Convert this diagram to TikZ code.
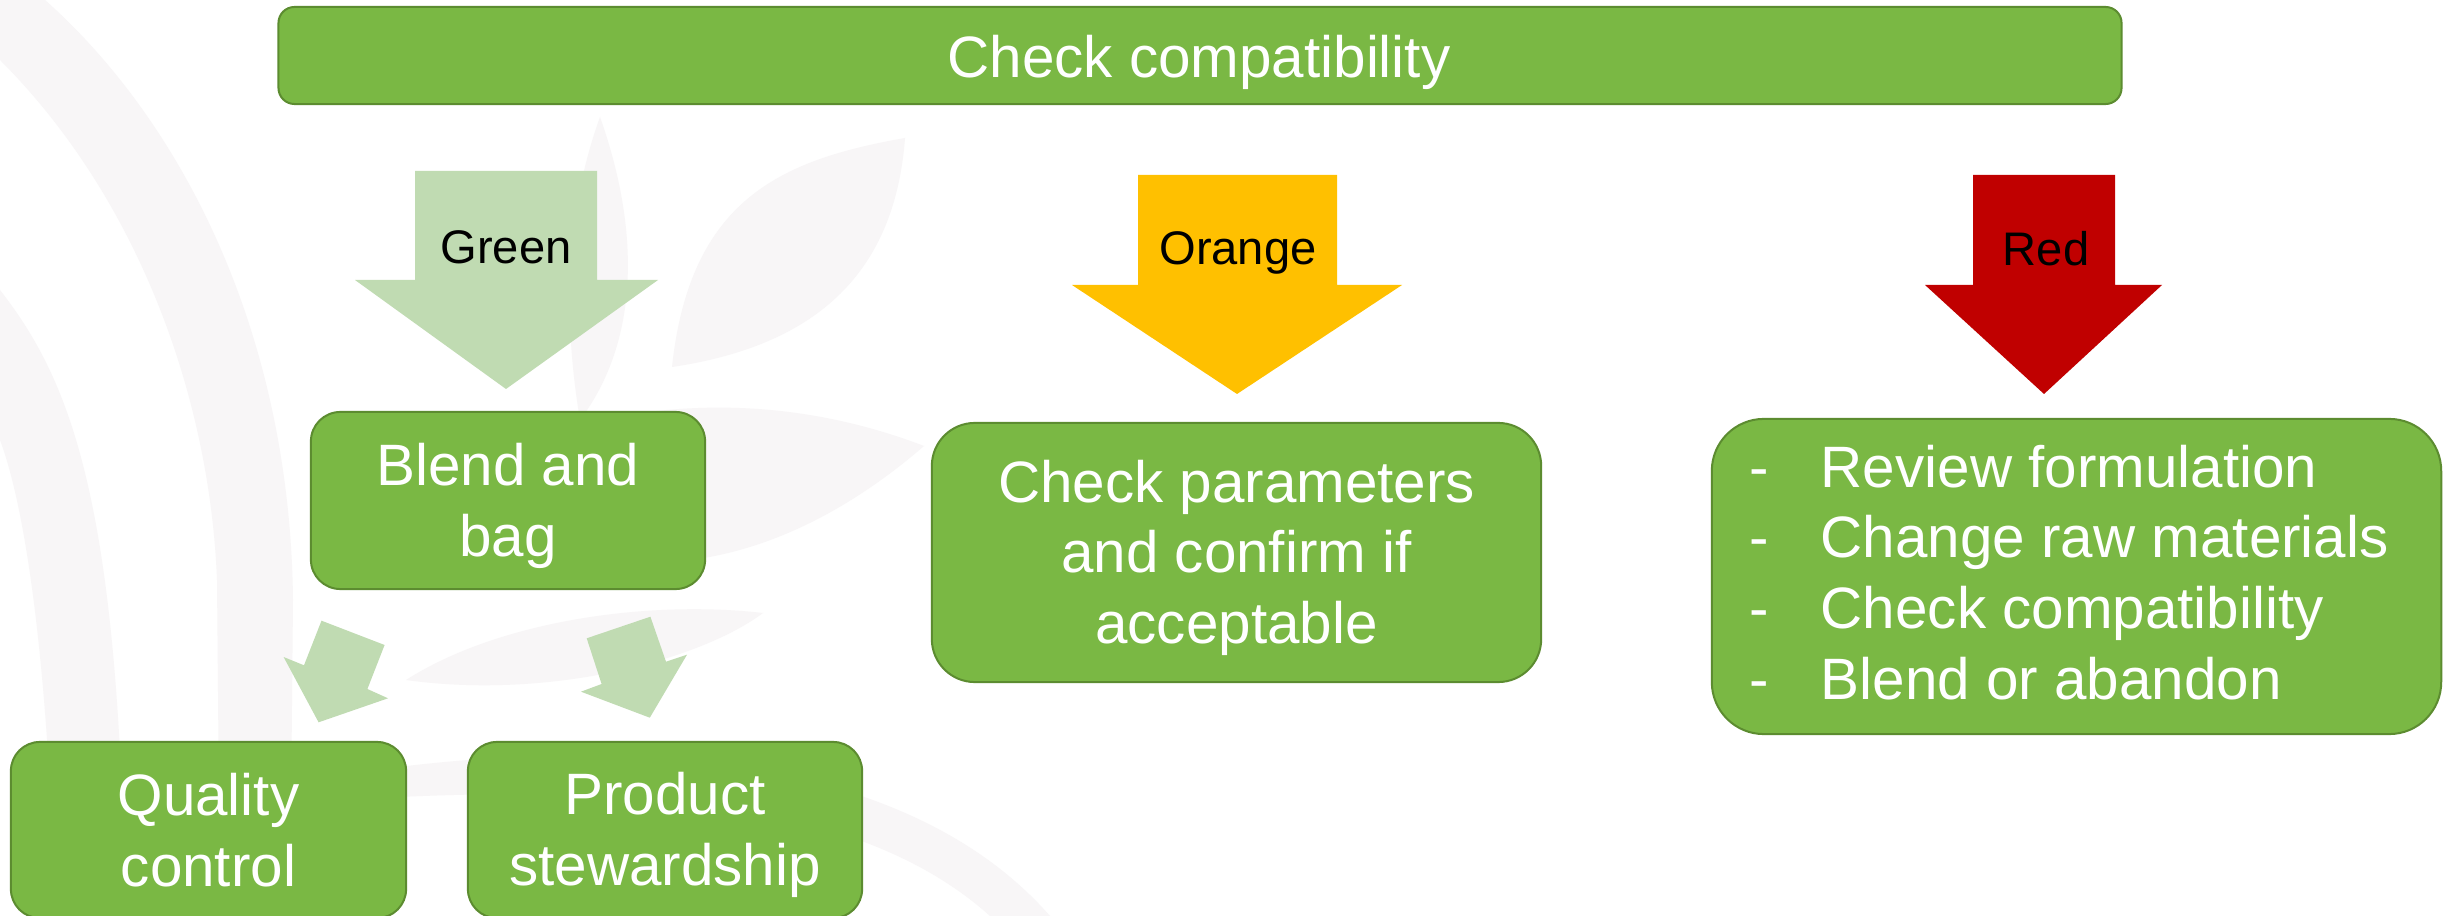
\documentclass[tikz,border=0pt]{standalone}
\usepackage{fontspec}
\setmainfont{Liberation Sans}
\definecolor{boxgreen}{RGB}{122,184,68}
\definecolor{boxedge}{RGB}{92,140,48}
\definecolor{lightgreen}{RGB}{192,219,178}
\definecolor{arrorange}{RGB}{255,192,0}
\definecolor{arrred}{RGB}{192,0,0}
\definecolor{wmark}{RGB}{248,246,247}
\newcommand{\topst}{\rule{0pt}{0.9em}}
\newcommand{\botst}{\rule[-0.184em]{0pt}{0pt}}
\tikzset{
  gbox/.style={draw=boxedge, line width=0.02cm, fill=boxgreen, text=white,
    align=center, inner sep=0pt,
    font=\fontsize{16.6}{20.1}\selectfont},
  arrlabel/.style={text=black, inner sep=0pt, anchor=base,
    font=\fontsize{13.4}{16}\selectfont},
  wm/.style={fill=wmark, draw=none}
}
\begin{document}
\begin{tikzpicture}[x=0.01cm, y=-0.01cm]
\useasboundingbox (0,0) rectangle (2443,916);
\fill[white] (0,0) rectangle (2443,916);
% watermark
\fill[wm] (45,0) .. controls (180,120) and (290,330) .. (293,600) -- (290,916)
  -- (220,916) -- (217,580) .. controls (210,400) and (140,200) .. (0,60) -- (0,0) -- cycle;
\fill[wm] (0,290) .. controls (70,380) and (120,500) .. (125,916) -- (55,916)
  .. controls (50,700) and (30,520) .. (0,440) -- cycle;
\fill[wm] (600,117) .. controls (640,230) and (640,340) .. (580,420)
  .. controls (560,300) and (570,200) .. (600,117) -- cycle;
\fill[wm] (672,367) .. controls (690,200) and (780,160) .. (905,138)
  .. controls (895,270) and (820,345) .. (672,367) -- cycle;
\fill[wm] (600,420) .. controls (720,395) and (830,410) .. (924,446)
  .. controls (850,510) and (770,550) .. (690,560) -- cycle;
\fill[wm] (406,680) .. controls (500,620) and (650,600) .. (763,613)
  .. controls (700,660) and (550,700) .. (406,680) -- cycle;
\fill[wm] (340,775) .. controls (600,735) and (900,745) .. (1050,916) -- (990,916)
  .. controls (850,790) and (600,785) .. (340,800) -- cycle;

% top bar
\node[gbox, minimum width=18.42cm, minimum height=0.97cm, rounded corners=0.16cm]
  (topbar) at (1200,55.5) {};
\node[gbox, draw=none, fill=none, anchor=base] (top) at (1199,78) {Check compatibility};

% big arrows
\fill[lightgreen] (415,171) -- (597,171) -- (597,280) -- (658,280) -- (506,389)
  -- (355,280) -- (415,280) -- cycle;
\node[arrlabel] (lgreen) at (506,264) {Green};
\fill[arrorange] (1138,175) -- (1337,175) -- (1337,285) -- (1402,285) -- (1237,394)
  -- (1072,285) -- (1138,285) -- cycle;
\node[arrlabel] (lorange) at (1238,265) {Orange};
\fill[arrred] (1973,175) -- (2115,175) -- (2115,285) -- (2162,285) -- (2044,394)
  -- (1925,285) -- (1973,285) -- cycle;
\node[arrlabel] (lred) at (2046,266) {Red};

% boxes
\node[gbox, minimum width=3.94cm, minimum height=1.77cm, rounded corners=0.295cm]
  (blend) at (508,500.5) {\topst Blend and\\bag\botst};
\node[gbox, minimum width=3.95cm, minimum height=1.76cm, rounded corners=0.29cm]
  (quality) at (208.5,830) {\topst Quality\\control\botst};
\node[gbox, minimum width=3.94cm, minimum height=1.76cm, rounded corners=0.29cm]
  (product) at (665,830) {\topst Product\\stewardship\botst};
\node[gbox, minimum width=6.09cm, minimum height=2.59cm, rounded corners=0.43cm]
  (params) at (1236.5,552.5) {\topst Check parameters\\and confirm if\\acceptable\botst};
\node[gbox, minimum width=7.29cm, minimum height=3.15cm, rounded corners=0.52cm]
  (redbox) at (2076.5,576.5) {};
\node[text=white, inner sep=0pt, anchor=center,
  font=\fontsize{16.6}{20.1}\selectfont] (redlist) at (2069,579)
  {\begin{tabular}{@{}l@{\hspace{0.52cm}}l@{}}
   -& Review formulation\\
   -& Change raw materials\\
   -& Check compatibility\\
   -& Blend or abandon
   \end{tabular}};

% small arrows
\fill[lightgreen] (321.5,620.7) -- (384.6,645) -- (367.4,689) -- (388,698.3)
  -- (318.6,722.3) -- (283.6,657) -- (304,665.3) -- cycle;
\fill[lightgreen] (586.7,638.3) -- (650.4,616.7) -- (666,661.7) -- (687,654.7)
  -- (649.8,717.7) -- (581,691.7) -- (601.6,684) -- cycle;
\end{tikzpicture}
\end{document}
